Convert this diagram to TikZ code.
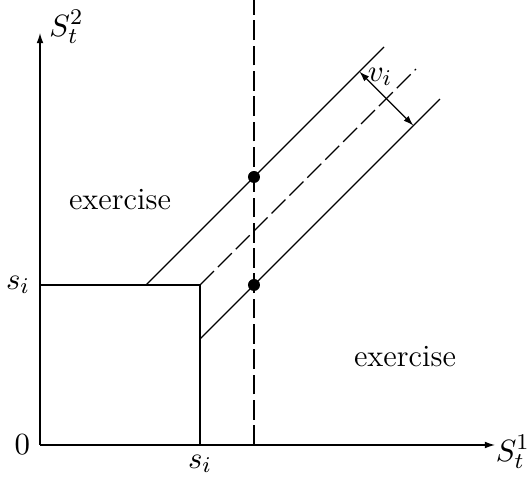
\documentclass[tikz,border=0pt]{standalone}
\usetikzlibrary{arrows.meta}
\begin{document}
\begin{tikzpicture}[x=0.5cm,y=0.5cm,line width=0.45pt,
  font=\fontsize{11}{13}\selectfont,
  tip/.style={-{Latex[length=3.6pt,width=2.4pt]}},
  longdash/.style={dash pattern=on 7pt off 2pt},
  dot/.style={circle,fill,inner sep=0pt,minimum size=0.15cm}]
\useasboundingbox (-1,-1) rectangle (12.25,11.125);
% axes
\coordinate (O) at (0,0);
\coordinate (xend) at (11.375,0);
\coordinate (yend) at (0,10.3);
\draw[tip] (O) -- (xend);
\draw[tip] (O) -- (yend);
\node[inner sep=0pt] (xlab) at (11.82,-0.175) {$S_t^1$};
\node[inner sep=0pt] (ylab) at (0.66,10.45) {$S_t^2$};
\node[left] (zero) at (O) {$0$};
% box
\coordinate (sy) at (0,4);
\coordinate (sx) at (4,0);
\coordinate (corner) at (4,4);
\draw (sy) -- (corner) -- (sx);
\node[left] (sylab) at (sy) {$s_i$};
\node[below] (sxlab) at (sx) {$s_i$};
% band
\coordinate (ulo) at (2.65,4);
\coordinate (uhi) at (8.6,9.95);
\coordinate (mhi) at (9.4,9.4);
\coordinate (llo) at (4,2.65);
\coordinate (lhi) at (10,8.65);
\draw (ulo) -- (uhi);
\draw[longdash] (corner) -- (mhi);
\draw (llo) -- (lhi);
% strike line
\coordinate (vbot) at (5.35,0);
\coordinate (vtop) at (5.35,11.125);
\draw[longdash] (vbot) -- (vtop);
\node[dot] (p1) at (5.35,6.7) {};
\node[dot] (p2) at (5.35,4) {};
% width
\coordinate (wm) at (8.66,8.66);
\coordinate (wu) at (7.985,9.335);
\coordinate (wl) at (9.335,7.985);
\draw[tip] (wm) -- (wu);
\draw[tip] (wm) -- (wl);
\node (vlab) at (8.5,9.2) {$v_i$};
\node (ex1) at (2,6.125) {exercise};
\node (ex2) at (9.125,2.2) {exercise};
\end{tikzpicture}
\end{document}
